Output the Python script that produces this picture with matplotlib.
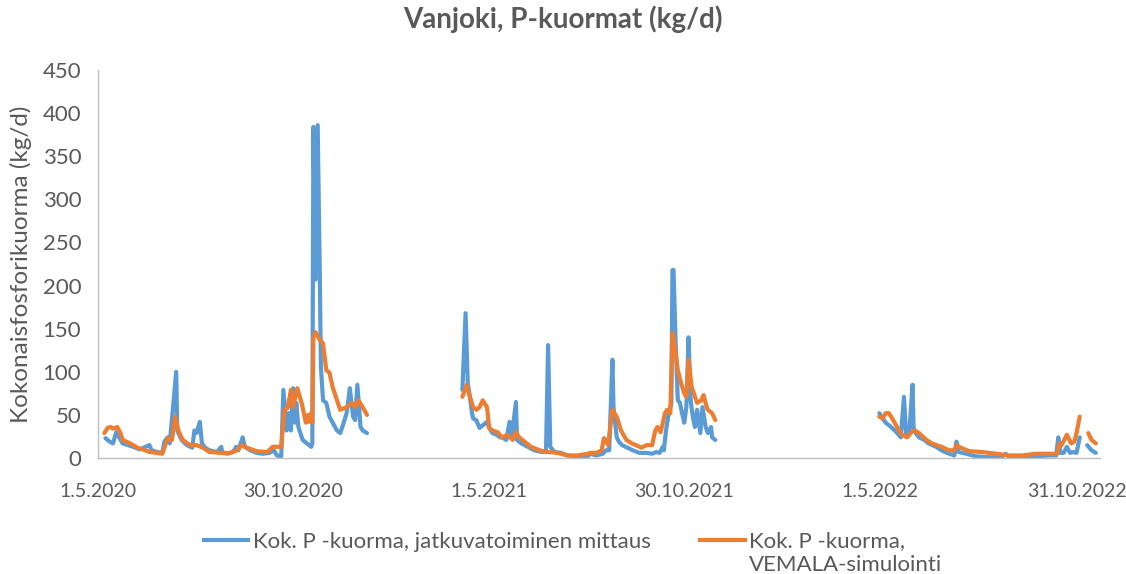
import numpy as np
import matplotlib.pyplot as plt
from matplotlib.lines import Line2D

plt.rcParams['font.family'] = ['Lato', 'DejaVu Sans']

start = np.datetime64('2020-05-01')
nan = np.nan

# days after 1.5.2020 and loads (kg/d), NaN = gap in the record
days_meas = [7, 11, 14, 17, 23, 33, 39, 48, 50, 55, 60, 62, 65, 67, 73, 74, 78, 83, 88, 90,
             92, 95, 97, 100, 104, 111, 115, 116, 121, 126, 129, 131, 135, 137, 142, 148, 154, 160, 164, 167,
             171, 173, 176, 178, 180, 182, 184, 185, 187, 191, 195, 199, 200, 201, 203, 205, 207, 208, 210, 213,
             216, 219, 223, 226, 228, 232, 235, 238, 240, 242, 245, 247, 251, 300,
             340, 343, 345, 347, 349, 350, 353, 356, 359, 363, 365, 368, 372, 375, 377, 381, 384, 386, 390, 391,
             395, 401, 407, 414, 418, 420, 422, 426, 432, 438, 445, 451, 457, 459, 465, 471, 474, 477, 480, 481,
             484, 486, 489, 494, 499, 505, 512, 517, 521, 524, 527, 528, 530, 532, 535, 536, 537, 539, 541, 543,
             545, 547, 549, 551, 553, 555, 557, 559, 562, 564, 567, 569, 572, 573, 576, 650,
             729, 732, 735, 740, 745, 749, 752, 754, 755, 757, 760, 761, 763, 766, 771, 775, 782, 787, 792, 799,
             801, 803, 810, 819, 831, 843, 847, 850, 862, 875, 887, 894, 896, 898, 901, 904, 907, 910, 913, 916,
             919, 923, 927, 931]
load_meas = [23, 19, 17, 30, 17, 13, 10, 15, 9, 7, 6, 19, 24, 17, 100, 32, 21, 15, 12, 32,
             29, 42, 17, 12, 9, 7, 13, 6, 5, 7, 13, 9, 24, 13, 9, 6, 5, 6, 9, 3,
             2, 79, 32, 52, 32, 81, 41, 64, 36, 21, 17, 13, 17, 384, 207, 386, 210, 106, 67, 64,
             48, 41, 32, 29, 36, 52, 81, 48, 44, 85, 36, 32, 29, nan,
             79, 168, 87, 71, 52, 46, 44, 35, 38, 42, 35, 29, 27, 24, 24, 21, 42, 24, 65, 21,
             17, 13, 9, 7, 7, 131, 13, 7, 6, 3, 2, 1, 2, 5, 3, 5, 9, 9, 114, 59,
             24, 19, 15, 12, 9, 6, 6, 5, 7, 6, 13, 9, 32, 48, 64, 218, 218, 133, 67, 64,
             52, 41, 59, 140, 67, 48, 36, 56, 29, 59, 36, 29, 36, 24, 21, nan,
             52, 46, 41, 36, 30, 24, 71, 27, 35, 30, 85, 35, 29, 24, 21, 17, 13, 9, 6, 3,
             19, 7, 5, 2, 1, 1, 5, 1, 1, 2, 3, 3, 24, 6, 6, 13, 6, 7, 6, 24,
             nan, 15, 9, 6]

days_sim = [6, 9, 12, 14, 18, 21, 23, 30, 37, 42, 48, 55, 60, 62, 65, 69, 72, 75, 79, 86,
            92, 98, 104, 114, 123, 130, 134, 139, 148, 158, 163, 167, 171, 174, 177, 180, 182, 186, 190, 194,
            196, 197, 199, 200, 201, 203, 207, 210, 213, 216, 219, 223, 226, 232, 237, 240, 243, 247, 251, 300,
            340, 344, 347, 350, 353, 356, 359, 363, 365, 368, 373, 377, 382, 387, 390, 393, 398, 404, 412, 419,
            429, 438, 447, 457, 459, 465, 470, 472, 474, 476, 480, 484, 488, 493, 498, 502, 507, 512, 517, 520,
            522, 525, 527, 529, 531, 534, 536, 539, 541, 544, 547, 549, 551, 554, 556, 559, 563, 565, 568, 569,
            573, 576, 650,
            729, 732, 735, 738, 741, 746, 750, 755, 759, 762, 766, 773, 778, 787, 794, 799, 801, 805, 813, 825,
            838, 850, 862, 875, 890, 895, 897, 899, 904, 908, 911, 913, 916, 920, 924, 927, 931]
load_sim = [29, 35, 36, 34, 36, 29, 21, 17, 12, 10, 7, 6, 5, 12, 23, 21, 48, 32, 21, 15,
            15, 12, 7, 6, 6, 9, 15, 12, 8, 7, 13, 13, 13, 56, 58, 79, 59, 81, 64, 41,
            50, 42, 52, 41, 140, 146, 137, 133, 102, 99, 82, 67, 56, 59, 64, 59, 67, 59, 50, nan,
            71, 85, 71, 59, 56, 59, 67, 59, 35, 32, 30, 24, 27, 21, 30, 24, 19, 13, 9, 7,
            6, 3, 3, 5, 6, 6, 9, 23, 21, 15, 56, 48, 32, 21, 17, 15, 12, 15, 15, 32,
            36, 30, 41, 52, 56, 52, 145, 122, 102, 87, 75, 71, 114, 82, 75, 64, 67, 73, 59, 56,
            52, 44, nan,
            48, 46, 52, 52, 46, 35, 27, 24, 30, 32, 29, 21, 17, 13, 9, 9, 15, 12, 8, 7,
            5, 3, 3, 5, 5, 5, 17, 15, 27, 17, 19, 29, 48, nan, 29, 21, 17]

tick_dates = ['2020-05-01', '2020-10-30', '2021-05-01', '2021-10-30', '2022-05-01', '2022-10-31']
tick_labels = ['1.5.2020', '30.10.2020', '1.5.2021', '30.10.2021', '1.5.2022', '31.10.2022']

blue = '#5B9BD5'
orange = '#ED7D31'
grey = '#595959'

fig = plt.figure(figsize=(11.26, 5.74), dpi=100)
ax = fig.add_axes([0.087, 0.202, 0.890, 0.676])

t_meas = start + np.array(days_meas).astype('timedelta64[D]')
t_sim = start + np.array(days_sim).astype('timedelta64[D]')
ax.plot(t_meas, load_meas, color=blue, lw=3.0, solid_joinstyle='round', solid_capstyle='round')
ax.plot(t_sim, load_sim, color=orange, lw=3.0, solid_joinstyle='round', solid_capstyle='round')

ax.set_xlim(start, start + np.timedelta64(935, 'D'))
ax.set_ylim(0, 450)
ax.set_yticks(range(0, 451, 50))
ax.set_xticks(np.array(tick_dates, dtype='datetime64[D]'))
ax.set_xticklabels(tick_labels)
ax.tick_params(length=0, labelsize=14, colors=grey)
ax.tick_params(axis='y', labelsize=16, pad=12)
ax.tick_params(axis='x', pad=18)
for s in ['top', 'right']:
    ax.spines[s].set_visible(False)
for s in ['left', 'bottom']:
    ax.spines[s].set_color('#BFBFBF')
    ax.spines[s].set_linewidth(1.0)

ax.set_ylabel('Kokonaisfosforikuorma (kg/d)', fontsize=17.5, color=grey, labelpad=8)
fig.suptitle('Vanjoki, P-kuormat (kg/d)', fontsize=20, fontweight='bold', color=grey, y=0.99)

handles = [Line2D([], [], color=blue, lw=3.0), Line2D([], [], color='none'),
           Line2D([], [], color=orange, lw=3.0), Line2D([], [], color='none')]
labels = ['Kok. P -kuorma, jatkuvatoiminen mittaus', ' ',
          'Kok. P -kuorma,', 'VEMALA-simulointi']
fig.legend(handles, labels, loc='upper center', ncol=2, bbox_to_anchor=(0.509, 0.074),
           frameon=False, fontsize=16, labelcolor=grey, handlelength=2.0,
           handletextpad=0.2, columnspacing=2.25, labelspacing=0.15,
           borderpad=0.0, borderaxespad=0.0)

fig.savefig('out.png', dpi=100)
